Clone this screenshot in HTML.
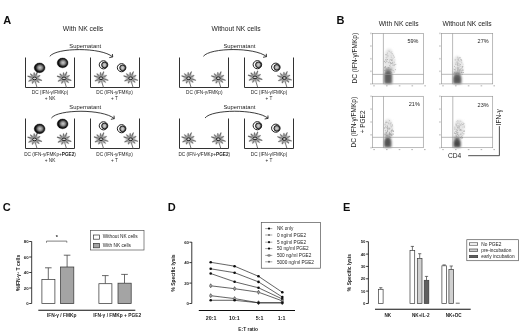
<!DOCTYPE html>
<html><head><meta charset="utf-8">
<style>
html,body{margin:0;padding:0;background:#fff;}
body{width:520px;height:335px;overflow:hidden;}
svg{display:block;font-family:"Liberation Sans",sans-serif;will-change:transform;}
.b{font-weight:bold;}
</style></head><body>
<svg width="520" height="335" viewBox="0 0 520 335">
<defs>
  <radialGradient id="gNK" cx="0.54" cy="0.48" r="0.52">
    <stop offset="0" stop-color="#cccccc"/>
    <stop offset="0.4" stop-color="#8c8c8c"/>
    <stop offset="0.65" stop-color="#3a3a3a"/>
    <stop offset="0.82" stop-color="#111"/>
    <stop offset="1" stop-color="#000"/>
  </radialGradient>
  <radialGradient id="gT" cx="0.5" cy="0.5" r="0.5">
    <stop offset="0" stop-color="#d8d8d8"/>
    <stop offset="0.55" stop-color="#aaa"/>
    <stop offset="1" stop-color="#666"/>
  </radialGradient>
  <filter id="bl" x="-50%" y="-50%" width="200%" height="200%"><feGaussianBlur stdDeviation="0.6"/></filter>
  <filter id="bl2" x="-50%" y="-50%" width="200%" height="200%"><feGaussianBlur stdDeviation="1.2"/></filter>
  <filter id="bl3" x="-50%" y="-50%" width="200%" height="200%"><feGaussianBlur stdDeviation="0.3"/></filter>
  <filter id="bl4" x="-50%" y="-50%" width="200%" height="200%"><feGaussianBlur stdDeviation="0.8"/></filter>
  <filter id="gblur" x="0" y="0" width="520" height="335" filterUnits="userSpaceOnUse"><feGaussianBlur stdDeviation="0.3"/></filter>
  <g id="nk">
    <ellipse rx="5.4" ry="4.85" fill="url(#gNK)" stroke="#000" stroke-width="0.4"/>
  </g>
  <g id="tc">
    <ellipse rx="4.25" ry="4.05" fill="#fff" stroke="#111" stroke-width="0.95"/>
    <circle cx="1.0" cy="0.15" r="2.85" fill="url(#gT)" stroke="#111" stroke-width="0.9"/>
  </g>
  <g id="dc">
    <path d="M-2.23,-1.53 L-6.81,-2.58 L-6.99,-2.02 L-2.70,-0.11 Z M-1.20,-2.43 L-3.98,-4.80 L-4.42,-4.40 L-2.31,-1.41 Z M0.52,-2.65 L-0.20,-5.83 L-0.80,-5.77 L-0.97,-2.53 Z M1.72,-2.09 L3.08,-6.38 L2.52,-6.62 L0.34,-2.68 Z M2.66,-0.51 L5.64,-2.53 L5.36,-3.07 L1.98,-1.85 Z M2.30,1.42 L7.12,2.29 L7.28,1.71 L2.71,-0.03 Z M1.41,2.31 L4.40,4.42 L4.80,3.98 L2.43,1.20 Z M-1.77,2.05 L-2.57,4.87 L-2.03,5.13 L-0.41,2.68 Z M-2.67,0.42 L-6.13,2.53 L-5.87,3.07 L-2.04,1.78 Z" fill="#5a5a5a" stroke="#5a5a5a" stroke-width="0.3" stroke-linejoin="round"/>
    <path d="M0.3,2 L2.6,9.6" stroke="#505050" stroke-width="0.8" fill="none"/>
    <ellipse rx="4.3" ry="3.7" fill="#9a9a9a" filter="url(#bl4)"/>
    <ellipse rx="2.0" ry="1.35" fill="#d0d0d0" stroke="#151515" stroke-width="0.95"/>
  </g>
  <marker id="arr" viewBox="0 0 6 6" refX="5" refY="3" markerWidth="4" markerHeight="4" orient="auto">
    <path d="M0,0.5 L5,3 L0,5.5" fill="none" stroke="#111" stroke-width="1"/>
  </marker>
</defs>
<rect width="520" height="335" fill="#fff"/>
<g filter="url(#gblur)">

<!-- ============ PANEL A ============ -->
<text x="3.3" y="23.8" font-size="11" class="b" fill="#111">A</text>
<text x="83" y="31" font-size="6.8" text-anchor="middle" fill="#222">With NK cells</text>
<text x="236" y="31" font-size="6.7" text-anchor="middle" fill="#222">Without NK cells</text>

<g id="rowA1">
  <!-- wells -->
  <g fill="none" stroke="#333" stroke-width="1">
    <path d="M25.5,57.5 V87.5 H74.5 V57.5"/>
    <path d="M90.5,57.5 V87.5 H139.5 V57.5"/>
    <path d="M179.5,57.5 V87.5 H228.5 V57.5"/>
    <path d="M244.5,57.5 V87.5 H293.5 V57.5"/>
  </g>
  <g font-size="5.85" text-anchor="middle" fill="#222">
    <text x="85.2" y="48">Supernatant</text>
    <text x="239.4" y="48">Supernatant</text>
  </g>
  <path d="M49.8,56.3 C56.5,47.5 101,47 112.7,56.9 M109.3,57.6 L112.7,56.9 L112.4,54.0" fill="none" stroke="#1a1a1a" stroke-width="0.85" stroke-linejoin="round"/>
  <path d="M203.4,56.3 C210.1,47.5 254.8,47 266.5,56.6 M263.1,57.3 L266.5,56.6 L266.3,53.8" fill="none" stroke="#1a1a1a" stroke-width="0.85" stroke-linejoin="round"/>
  <!-- cells well 1 -->
  <use href="#dc" x="34.6" y="78.4"/>
  <use href="#dc" x="64" y="78.4"/>
  <use href="#nk" x="39.6" y="67.85"/>
  <use href="#nk" x="62.6" y="62.9"/>
  <!-- well 2 -->
  <use href="#dc" x="101" y="78.2"/>
  <use href="#dc" x="130.6" y="78.2"/>
  <use href="#tc" x="103.5" y="64.8"/>
  <use href="#tc" x="121.6" y="67.7"/>
  <!-- well 3 -->
  <use href="#dc" x="188.6" y="78.2"/>
  <use href="#dc" x="218.3" y="78.2"/>
  <!-- well 4 -->
  <use href="#dc" x="255" y="77.4"/>
  <use href="#dc" x="284.4" y="78.0"/>
  <use href="#tc" x="257.4" y="64.7"/>
  <use href="#tc" x="275.8" y="67.2"/>
  <g font-size="4.7" text-anchor="middle" fill="#222">
    <text x="50" y="93.5">DC (IFN-γ/FMKp)</text>
    <text x="50" y="99.5">+ NK</text>
    <text x="114.5" y="93.5">DC (IFN-γ/FMKp)</text>
    <text x="114.5" y="99.5">+ T</text>
    <text x="204.3" y="93.5">DC (IFN-γ/FMKp)</text>
    <text x="269" y="93.5">DC (IFN-γ/FMKp)</text>
    <text x="269" y="99.5">+ T</text>
  </g>
</g>

<g id="rowA2" transform="translate(0,61)">
  <g fill="none" stroke="#333" stroke-width="1">
    <path d="M25.5,57.5 V87.5 H74.5 V57.5"/>
    <path d="M90.5,57.5 V87.5 H139.5 V57.5"/>
    <path d="M179.5,57.5 V87.5 H228.5 V57.5"/>
    <path d="M244.5,57.5 V87.5 H293.5 V57.5"/>
  </g>
  <g font-size="5.85" text-anchor="middle" fill="#222">
    <text x="85.2" y="48">Supernatant</text>
    <text x="239.4" y="48">Supernatant</text>
  </g>
  <g transform="translate(1.6,0.7)"><path d="M49.8,56.3 C56.5,47.5 101,47 112.7,56.9 M109.3,57.6 L112.7,56.9 L112.4,54.0" fill="none" stroke="#1a1a1a" stroke-width="0.85" stroke-linejoin="round"/>
  <path d="M203.4,56.3 C210.1,47.5 254.8,47 266.5,56.6 M263.1,57.3 L266.5,56.6 L266.3,53.8" fill="none" stroke="#1a1a1a" stroke-width="0.85" stroke-linejoin="round"/></g>
  <use href="#dc" x="34.6" y="78.4"/>
  <use href="#dc" x="64" y="78.4"/>
  <use href="#nk" x="39.6" y="67.85"/>
  <use href="#nk" x="62.6" y="62.9"/>
  <use href="#dc" x="101" y="78.2"/>
  <use href="#dc" x="130.6" y="78.2"/>
  <use href="#tc" x="103.5" y="64.8"/>
  <use href="#tc" x="121.6" y="67.7"/>
  <use href="#dc" x="188.6" y="78.2"/>
  <use href="#dc" x="218.3" y="78.2"/>
  <use href="#dc" x="255" y="77.4"/>
  <use href="#dc" x="284.4" y="78.0"/>
  <use href="#tc" x="257.4" y="64.7"/>
  <use href="#tc" x="275.8" y="67.2"/>
  <g font-size="4.7" text-anchor="middle" fill="#222">
    <text x="50" y="95.2">DC (IFN-γ/FMKp+<tspan class="b">PGE2</tspan>)</text>
    <text x="50" y="100.6">+ NK</text>
    <text x="114.5" y="95.2">DC (IFN-γ/FMKp)</text>
    <text x="114.5" y="100.6">+ T</text>
    <text x="204.3" y="95.2">DC (IFN-γ/FMKp+<tspan class="b">PGE2</tspan>)</text>
    <text x="269" y="95.2">DC (IFN-γ/FMKp)</text>
    <text x="269" y="100.6">+ T</text>
  </g>
</g>

<!-- ============ PANEL B ============ -->
<text x="336.5" y="24" font-size="11" class="b" fill="#111">B</text>
<text x="398.7" y="25.6" font-size="6.7" text-anchor="middle" fill="#222">With NK cells</text>
<text x="467" y="25.6" font-size="6.7" text-anchor="middle" fill="#222">Without NK cells</text>

<!-- FLOW START -->
<g><path d="M384.0,72.0 L383.8,62.0 L385.0,52.0 L388.0,48.5 L391.5,49.5 L394.0,56.0 L395.5,64.0 L395.0,72.0 Z" fill="#e6e6e6" filter="url(#bl2)"/>
<g filter="url(#bl3)"><rect x="389.1" y="61.7" width="0.9" height="0.9" fill="rgb(212,212,212)"/><rect x="389.2" y="60.4" width="0.9" height="0.9" fill="rgb(194,194,194)"/><rect x="386.0" y="60.5" width="0.9" height="0.9" fill="rgb(197,197,197)"/><rect x="387.3" y="50.6" width="0.9" height="0.9" fill="rgb(229,229,229)"/><rect x="391.5" y="63.0" width="0.9" height="0.9" fill="rgb(163,163,163)"/><rect x="384.0" y="60.9" width="0.9" height="0.9" fill="rgb(162,162,162)"/><rect x="386.0" y="54.2" width="0.9" height="0.9" fill="rgb(174,174,174)"/><rect x="389.2" y="58.9" width="0.9" height="0.9" fill="rgb(213,213,213)"/><rect x="389.9" y="63.5" width="0.9" height="0.9" fill="rgb(182,182,182)"/><rect x="391.6" y="59.2" width="0.9" height="0.9" fill="rgb(178,178,178)"/><rect x="393.6" y="65.1" width="0.9" height="0.9" fill="rgb(168,168,168)"/><rect x="386.5" y="55.3" width="0.9" height="0.9" fill="rgb(174,174,174)"/><rect x="392.8" y="57.9" width="0.9" height="0.9" fill="rgb(215,215,215)"/><rect x="388.3" y="71.0" width="0.9" height="0.9" fill="rgb(187,187,187)"/><rect x="394.5" y="59.5" width="0.9" height="0.9" fill="rgb(220,220,220)"/><rect x="388.4" y="50.2" width="0.9" height="0.9" fill="rgb(219,219,219)"/><rect x="392.9" y="54.8" width="0.9" height="0.9" fill="rgb(176,176,176)"/><rect x="387.7" y="71.2" width="0.9" height="0.9" fill="rgb(182,182,182)"/><rect x="385.2" y="54.3" width="0.9" height="0.9" fill="rgb(178,178,178)"/><rect x="384.5" y="67.2" width="0.9" height="0.9" fill="rgb(155,155,155)"/><rect x="390.3" y="59.0" width="0.9" height="0.9" fill="rgb(174,174,174)"/><rect x="391.3" y="51.2" width="0.9" height="0.9" fill="rgb(204,204,204)"/><rect x="386.3" y="54.8" width="0.9" height="0.9" fill="rgb(229,229,229)"/><rect x="393.2" y="55.6" width="0.9" height="0.9" fill="rgb(222,222,222)"/><rect x="386.3" y="57.8" width="0.9" height="0.9" fill="rgb(216,216,216)"/><rect x="391.3" y="50.9" width="0.9" height="0.9" fill="rgb(235,235,235)"/><rect x="386.3" y="54.6" width="0.9" height="0.9" fill="rgb(218,218,218)"/><rect x="387.6" y="55.5" width="0.9" height="0.9" fill="rgb(174,174,174)"/><rect x="384.9" y="62.2" width="0.9" height="0.9" fill="rgb(170,170,170)"/><rect x="390.8" y="57.2" width="0.9" height="0.9" fill="rgb(193,193,193)"/><rect x="390.5" y="68.9" width="0.9" height="0.9" fill="rgb(152,152,152)"/><rect x="385.6" y="69.8" width="0.9" height="0.9" fill="rgb(188,188,188)"/><rect x="386.7" y="53.0" width="0.9" height="0.9" fill="rgb(219,219,219)"/><rect x="394.9" y="69.2" width="0.9" height="0.9" fill="rgb(177,177,177)"/><rect x="388.7" y="50.9" width="0.9" height="0.9" fill="rgb(182,182,182)"/><rect x="392.0" y="54.5" width="0.9" height="0.9" fill="rgb(221,221,221)"/><rect x="390.8" y="55.4" width="0.9" height="0.9" fill="rgb(180,180,180)"/><rect x="386.5" y="61.6" width="0.9" height="0.9" fill="rgb(208,208,208)"/><rect x="391.0" y="55.1" width="0.9" height="0.9" fill="rgb(226,226,226)"/><rect x="386.9" y="59.0" width="0.9" height="0.9" fill="rgb(166,166,166)"/><rect x="385.9" y="57.2" width="0.9" height="0.9" fill="rgb(200,200,200)"/><rect x="385.3" y="57.0" width="0.9" height="0.9" fill="rgb(220,220,220)"/><rect x="395.3" y="63.9" width="0.9" height="0.9" fill="rgb(193,193,193)"/><rect x="390.6" y="51.8" width="0.9" height="0.9" fill="rgb(180,180,180)"/><rect x="384.0" y="69.9" width="0.9" height="0.9" fill="rgb(181,181,181)"/><rect x="391.2" y="59.8" width="0.9" height="0.9" fill="rgb(204,204,204)"/><rect x="387.5" y="72.0" width="0.9" height="0.9" fill="rgb(139,139,139)"/><rect x="390.2" y="65.8" width="0.9" height="0.9" fill="rgb(202,202,202)"/><rect x="392.4" y="65.0" width="0.9" height="0.9" fill="rgb(197,197,197)"/><rect x="391.8" y="69.7" width="0.9" height="0.9" fill="rgb(192,192,192)"/><rect x="388.7" y="67.1" width="0.9" height="0.9" fill="rgb(197,197,197)"/><rect x="390.5" y="63.2" width="0.9" height="0.9" fill="rgb(176,176,176)"/><rect x="390.6" y="62.8" width="0.9" height="0.9" fill="rgb(159,159,159)"/><rect x="391.3" y="71.8" width="0.9" height="0.9" fill="rgb(188,188,188)"/><rect x="392.3" y="57.6" width="0.9" height="0.9" fill="rgb(209,209,209)"/><rect x="390.6" y="58.9" width="0.9" height="0.9" fill="rgb(213,213,213)"/><rect x="384.8" y="66.1" width="0.9" height="0.9" fill="rgb(149,149,149)"/><rect x="390.8" y="59.8" width="0.9" height="0.9" fill="rgb(174,174,174)"/><rect x="392.0" y="60.2" width="0.9" height="0.9" fill="rgb(197,197,197)"/><rect x="391.7" y="53.3" width="0.9" height="0.9" fill="rgb(185,185,185)"/><rect x="394.4" y="64.0" width="0.9" height="0.9" fill="rgb(178,178,178)"/><rect x="391.6" y="53.2" width="0.9" height="0.9" fill="rgb(200,200,200)"/><rect x="393.2" y="70.0" width="0.9" height="0.9" fill="rgb(192,192,192)"/><rect x="388.3" y="62.2" width="0.9" height="0.9" fill="rgb(174,174,174)"/><rect x="385.4" y="60.2" width="0.9" height="0.9" fill="rgb(210,210,210)"/><rect x="393.7" y="65.2" width="0.9" height="0.9" fill="rgb(206,206,206)"/><rect x="387.0" y="52.5" width="0.9" height="0.9" fill="rgb(203,203,203)"/><rect x="387.0" y="53.5" width="0.9" height="0.9" fill="rgb(199,199,199)"/><rect x="391.1" y="60.1" width="0.9" height="0.9" fill="rgb(179,179,179)"/><rect x="393.6" y="71.6" width="0.9" height="0.9" fill="rgb(163,163,163)"/><rect x="392.1" y="61.9" width="0.9" height="0.9" fill="rgb(175,175,175)"/><rect x="385.4" y="59.2" width="0.9" height="0.9" fill="rgb(163,163,163)"/><rect x="391.2" y="59.0" width="0.9" height="0.9" fill="rgb(200,200,200)"/><rect x="391.5" y="67.5" width="0.9" height="0.9" fill="rgb(202,202,202)"/><rect x="391.8" y="53.2" width="0.9" height="0.9" fill="rgb(203,203,203)"/><rect x="389.3" y="65.3" width="0.9" height="0.9" fill="rgb(160,160,160)"/><rect x="387.0" y="56.6" width="0.9" height="0.9" fill="rgb(209,209,209)"/><rect x="389.9" y="62.9" width="0.9" height="0.9" fill="rgb(199,199,199)"/><rect x="388.4" y="67.1" width="0.9" height="0.9" fill="rgb(199,199,199)"/><rect x="384.8" y="70.4" width="0.9" height="0.9" fill="rgb(181,181,181)"/><rect x="385.3" y="59.2" width="0.9" height="0.9" fill="rgb(199,199,199)"/><rect x="390.5" y="69.2" width="0.9" height="0.9" fill="rgb(188,188,188)"/><rect x="391.4" y="53.3" width="0.9" height="0.9" fill="rgb(218,218,218)"/><rect x="393.4" y="63.6" width="0.9" height="0.9" fill="rgb(195,195,195)"/><rect x="386.3" y="69.6" width="0.9" height="0.9" fill="rgb(198,198,198)"/><rect x="393.1" y="56.0" width="0.9" height="0.9" fill="rgb(223,223,223)"/><rect x="393.8" y="56.7" width="0.9" height="0.9" fill="rgb(172,172,172)"/><rect x="389.0" y="61.4" width="0.9" height="0.9" fill="rgb(203,203,203)"/><rect x="389.5" y="49.2" width="0.9" height="0.9" fill="rgb(232,232,232)"/><rect x="384.5" y="67.3" width="0.9" height="0.9" fill="rgb(155,155,155)"/><rect x="387.7" y="67.0" width="0.9" height="0.9" fill="rgb(154,154,154)"/><rect x="385.5" y="60.6" width="0.9" height="0.9" fill="rgb(202,202,202)"/><rect x="393.6" y="64.7" width="0.9" height="0.9" fill="rgb(207,207,207)"/><rect x="389.6" y="70.8" width="0.9" height="0.9" fill="rgb(142,142,142)"/><rect x="386.4" y="60.9" width="0.9" height="0.9" fill="rgb(176,176,176)"/><rect x="392.3" y="63.5" width="0.9" height="0.9" fill="rgb(184,184,184)"/><rect x="393.7" y="61.7" width="0.9" height="0.9" fill="rgb(175,175,175)"/><rect x="388.3" y="68.4" width="0.9" height="0.9" fill="rgb(196,196,196)"/><rect x="386.2" y="68.5" width="0.9" height="0.9" fill="rgb(200,200,200)"/><rect x="389.9" y="62.0" width="0.9" height="0.9" fill="rgb(168,168,168)"/></g>
<rect x="384.0" y="68.0" width="8.2" height="2.5" rx="3" fill="#a0a0a0" filter="url(#bl4)"/>
<path d="M384.0,75.5 A4.1,6.0 0 0 1 392.2,75.5 L392.2,82.5 Q392.2,84.0 390.7,84.0 L385.5,84.0 Q384.0,84.0 384.0,82.5 Z" fill="#707070" filter="url(#bl4)"/>
<rect x="385.6" y="73.0" width="4.8" height="9.5" rx="2" fill="#505050" opacity="0.6" filter="url(#bl4)"/>
<rect x="372.5" y="33.4" width="51.1" height="50.5" fill="none" stroke="#959595" stroke-width="0.65"/>
<path d="M383.4,33.4 V83.9 M372.5,74.4 H423.6" stroke="#959595" stroke-width="0.65"/>
<rect x="370.5" y="83.1" width="0.9" height="1.6" fill="#aaa"/>
<rect x="370.5" y="70.5" width="0.9" height="1.6" fill="#aaa"/>
<rect x="370.5" y="57.9" width="0.9" height="1.6" fill="#aaa"/>
<rect x="370.5" y="45.2" width="0.9" height="1.6" fill="#aaa"/>
<rect x="370.5" y="32.6" width="0.9" height="1.6" fill="#aaa"/>
<rect x="373.2" y="85.4" width="1.6" height="0.9" fill="#aaa"/>
<rect x="386.0" y="85.4" width="1.6" height="0.9" fill="#aaa"/>
<rect x="398.8" y="85.4" width="1.6" height="0.9" fill="#aaa"/>
<rect x="411.5" y="85.4" width="1.6" height="0.9" fill="#aaa"/>
<rect x="424.3" y="85.4" width="1.6" height="0.9" fill="#aaa"/>
<text x="412.9" y="43.0" font-size="5.5" text-anchor="middle" fill="#222">59%</text></g>
<g><path d="M453.2,74.0 L453.3,64.0 L454.5,57.5 L457.0,55.8 L460.0,57.0 L462.5,62.0 L463.5,69.0 L462.5,74.0 Z" fill="#e6e6e6" filter="url(#bl2)"/>
<g filter="url(#bl3)"><rect x="458.7" y="65.0" width="0.9" height="0.9" fill="rgb(196,196,196)"/><rect x="453.5" y="73.4" width="0.9" height="0.9" fill="rgb(167,167,167)"/><rect x="457.3" y="70.4" width="0.9" height="0.9" fill="rgb(178,178,178)"/><rect x="458.3" y="68.4" width="0.9" height="0.9" fill="rgb(154,154,154)"/><rect x="458.7" y="63.3" width="0.9" height="0.9" fill="rgb(221,221,221)"/><rect x="458.1" y="58.1" width="0.9" height="0.9" fill="rgb(204,204,204)"/><rect x="461.6" y="72.2" width="0.9" height="0.9" fill="rgb(168,168,168)"/><rect x="456.5" y="59.3" width="0.9" height="0.9" fill="rgb(212,212,212)"/><rect x="455.2" y="59.9" width="0.9" height="0.9" fill="rgb(214,214,214)"/><rect x="456.5" y="62.3" width="0.9" height="0.9" fill="rgb(204,204,204)"/><rect x="454.3" y="69.1" width="0.9" height="0.9" fill="rgb(155,155,155)"/><rect x="458.5" y="60.4" width="0.9" height="0.9" fill="rgb(184,184,184)"/><rect x="458.7" y="63.7" width="0.9" height="0.9" fill="rgb(185,185,185)"/><rect x="457.5" y="65.4" width="0.9" height="0.9" fill="rgb(168,168,168)"/><rect x="455.3" y="67.3" width="0.9" height="0.9" fill="rgb(191,191,191)"/><rect x="458.7" y="71.3" width="0.9" height="0.9" fill="rgb(179,179,179)"/><rect x="460.8" y="70.6" width="0.9" height="0.9" fill="rgb(198,198,198)"/><rect x="456.5" y="61.5" width="0.9" height="0.9" fill="rgb(224,224,224)"/><rect x="455.4" y="74.0" width="0.9" height="0.9" fill="rgb(188,188,188)"/><rect x="454.6" y="60.2" width="0.9" height="0.9" fill="rgb(216,216,216)"/><rect x="455.9" y="57.6" width="0.9" height="0.9" fill="rgb(230,230,230)"/><rect x="457.5" y="70.2" width="0.9" height="0.9" fill="rgb(153,153,153)"/><rect x="457.3" y="68.3" width="0.9" height="0.9" fill="rgb(151,151,151)"/><rect x="455.3" y="68.2" width="0.9" height="0.9" fill="rgb(205,205,205)"/><rect x="458.4" y="69.6" width="0.9" height="0.9" fill="rgb(177,177,177)"/><rect x="460.3" y="59.2" width="0.9" height="0.9" fill="rgb(179,179,179)"/><rect x="458.9" y="65.2" width="0.9" height="0.9" fill="rgb(193,193,193)"/><rect x="454.7" y="59.2" width="0.9" height="0.9" fill="rgb(188,188,188)"/><rect x="461.9" y="73.8" width="0.9" height="0.9" fill="rgb(191,191,191)"/><rect x="461.1" y="61.7" width="0.9" height="0.9" fill="rgb(196,196,196)"/><rect x="458.5" y="63.6" width="0.9" height="0.9" fill="rgb(199,199,199)"/><rect x="453.3" y="68.6" width="0.9" height="0.9" fill="rgb(200,200,200)"/><rect x="455.1" y="64.1" width="0.9" height="0.9" fill="rgb(206,206,206)"/><rect x="457.4" y="59.4" width="0.9" height="0.9" fill="rgb(185,185,185)"/><rect x="462.4" y="70.4" width="0.9" height="0.9" fill="rgb(187,187,187)"/><rect x="462.1" y="67.3" width="0.9" height="0.9" fill="rgb(177,177,177)"/><rect x="459.4" y="65.0" width="0.9" height="0.9" fill="rgb(218,218,218)"/><rect x="461.5" y="60.5" width="0.9" height="0.9" fill="rgb(226,226,226)"/><rect x="460.9" y="70.0" width="0.9" height="0.9" fill="rgb(194,194,194)"/><rect x="457.4" y="72.1" width="0.9" height="0.9" fill="rgb(192,192,192)"/><rect x="460.4" y="69.8" width="0.9" height="0.9" fill="rgb(192,192,192)"/><rect x="457.4" y="69.0" width="0.9" height="0.9" fill="rgb(153,153,153)"/><rect x="456.7" y="64.3" width="0.9" height="0.9" fill="rgb(162,162,162)"/><rect x="456.9" y="67.4" width="0.9" height="0.9" fill="rgb(190,190,190)"/><rect x="455.6" y="73.0" width="0.9" height="0.9" fill="rgb(177,177,177)"/><rect x="456.7" y="67.8" width="0.9" height="0.9" fill="rgb(186,186,186)"/><rect x="458.7" y="62.9" width="0.9" height="0.9" fill="rgb(225,225,225)"/><rect x="459.8" y="68.6" width="0.9" height="0.9" fill="rgb(195,195,195)"/><rect x="459.5" y="69.2" width="0.9" height="0.9" fill="rgb(163,163,163)"/><rect x="457.3" y="56.7" width="0.9" height="0.9" fill="rgb(194,194,194)"/><rect x="457.1" y="57.6" width="0.9" height="0.9" fill="rgb(195,195,195)"/><rect x="462.5" y="65.8" width="0.9" height="0.9" fill="rgb(187,187,187)"/><rect x="459.4" y="69.6" width="0.9" height="0.9" fill="rgb(149,149,149)"/><rect x="458.1" y="58.9" width="0.9" height="0.9" fill="rgb(206,206,206)"/><rect x="459.5" y="56.9" width="0.9" height="0.9" fill="rgb(235,235,235)"/><rect x="457.5" y="65.4" width="0.9" height="0.9" fill="rgb(194,194,194)"/><rect x="457.0" y="61.0" width="0.9" height="0.9" fill="rgb(210,210,210)"/><rect x="459.0" y="61.0" width="0.9" height="0.9" fill="rgb(213,213,213)"/><rect x="454.8" y="69.5" width="0.9" height="0.9" fill="rgb(170,170,170)"/><rect x="462.4" y="69.4" width="0.9" height="0.9" fill="rgb(150,150,150)"/><rect x="454.0" y="72.3" width="0.9" height="0.9" fill="rgb(165,165,165)"/><rect x="458.1" y="73.5" width="0.9" height="0.9" fill="rgb(150,150,150)"/><rect x="458.6" y="72.9" width="0.9" height="0.9" fill="rgb(181,181,181)"/><rect x="458.0" y="73.6" width="0.9" height="0.9" fill="rgb(185,185,185)"/><rect x="459.4" y="57.9" width="0.9" height="0.9" fill="rgb(216,216,216)"/><rect x="457.9" y="59.5" width="0.9" height="0.9" fill="rgb(177,177,177)"/><rect x="458.6" y="58.1" width="0.9" height="0.9" fill="rgb(205,205,205)"/><rect x="460.1" y="64.1" width="0.9" height="0.9" fill="rgb(177,177,177)"/><rect x="459.2" y="63.4" width="0.9" height="0.9" fill="rgb(210,210,210)"/><rect x="458.7" y="74.0" width="0.9" height="0.9" fill="rgb(192,192,192)"/><rect x="460.8" y="60.1" width="0.9" height="0.9" fill="rgb(179,179,179)"/><rect x="462.4" y="70.1" width="0.9" height="0.9" fill="rgb(183,183,183)"/><rect x="456.9" y="60.7" width="0.9" height="0.9" fill="rgb(212,212,212)"/><rect x="459.0" y="66.6" width="0.9" height="0.9" fill="rgb(193,193,193)"/><rect x="461.0" y="59.3" width="0.9" height="0.9" fill="rgb(190,190,190)"/><rect x="457.6" y="67.1" width="0.9" height="0.9" fill="rgb(159,159,159)"/><rect x="458.8" y="57.1" width="0.9" height="0.9" fill="rgb(186,186,186)"/><rect x="460.2" y="65.8" width="0.9" height="0.9" fill="rgb(195,195,195)"/><rect x="457.0" y="64.5" width="0.9" height="0.9" fill="rgb(173,173,173)"/><rect x="456.7" y="69.4" width="0.9" height="0.9" fill="rgb(198,198,198)"/><rect x="461.5" y="67.2" width="0.9" height="0.9" fill="rgb(199,199,199)"/><rect x="455.4" y="63.5" width="0.9" height="0.9" fill="rgb(179,179,179)"/><rect x="461.5" y="62.5" width="0.9" height="0.9" fill="rgb(205,205,205)"/><rect x="458.9" y="69.4" width="0.9" height="0.9" fill="rgb(202,202,202)"/><rect x="457.6" y="62.5" width="0.9" height="0.9" fill="rgb(172,172,172)"/><rect x="454.1" y="66.1" width="0.9" height="0.9" fill="rgb(185,185,185)"/><rect x="460.3" y="61.2" width="0.9" height="0.9" fill="rgb(216,216,216)"/><rect x="460.0" y="57.3" width="0.9" height="0.9" fill="rgb(199,199,199)"/><rect x="460.7" y="68.4" width="0.9" height="0.9" fill="rgb(167,167,167)"/><rect x="454.7" y="62.3" width="0.9" height="0.9" fill="rgb(210,210,210)"/><rect x="457.0" y="57.9" width="0.9" height="0.9" fill="rgb(221,221,221)"/><rect x="459.1" y="72.5" width="0.9" height="0.9" fill="rgb(195,195,195)"/><rect x="462.6" y="63.8" width="0.9" height="0.9" fill="rgb(211,211,211)"/><rect x="456.3" y="61.6" width="0.9" height="0.9" fill="rgb(193,193,193)"/><rect x="462.8" y="72.1" width="0.9" height="0.9" fill="rgb(155,155,155)"/><rect x="456.9" y="62.5" width="0.9" height="0.9" fill="rgb(188,188,188)"/><rect x="457.3" y="62.9" width="0.9" height="0.9" fill="rgb(177,177,177)"/><rect x="459.0" y="70.3" width="0.9" height="0.9" fill="rgb(177,177,177)"/><rect x="461.8" y="66.0" width="0.9" height="0.9" fill="rgb(167,167,167)"/><rect x="461.0" y="71.8" width="0.9" height="0.9" fill="rgb(157,157,157)"/></g>
<rect x="453.0" y="71.5" width="8.5" height="2.5" rx="3" fill="#a0a0a0" filter="url(#bl4)"/>
<path d="M453.0,78.5 A4.2,5.5 0 0 1 461.5,78.5 L461.5,82.5 Q461.5,84.0 460.0,84.0 L454.5,84.0 Q453.0,84.0 453.0,82.5 Z" fill="#6a6a6a" filter="url(#bl4)"/>
<rect x="454.6" y="76.5" width="5.1" height="6.0" rx="2" fill="#4a4a4a" opacity="0.6" filter="url(#bl4)"/>
<rect x="441.5" y="33.4" width="51.2" height="50.5" fill="none" stroke="#959595" stroke-width="0.65"/>
<path d="M452.6,33.4 V83.9 M441.5,74.3 H492.7" stroke="#959595" stroke-width="0.65"/>
<rect x="439.5" y="83.1" width="0.9" height="1.6" fill="#aaa"/>
<rect x="439.5" y="70.5" width="0.9" height="1.6" fill="#aaa"/>
<rect x="439.5" y="57.9" width="0.9" height="1.6" fill="#aaa"/>
<rect x="439.5" y="45.2" width="0.9" height="1.6" fill="#aaa"/>
<rect x="439.5" y="32.6" width="0.9" height="1.6" fill="#aaa"/>
<rect x="442.2" y="85.4" width="1.6" height="0.9" fill="#aaa"/>
<rect x="455.0" y="85.4" width="1.6" height="0.9" fill="#aaa"/>
<rect x="467.8" y="85.4" width="1.6" height="0.9" fill="#aaa"/>
<rect x="480.6" y="85.4" width="1.6" height="0.9" fill="#aaa"/>
<rect x="493.4" y="85.4" width="1.6" height="0.9" fill="#aaa"/>
<text x="483.1" y="42.9" font-size="5.5" text-anchor="middle" fill="#222">27%</text></g>
<g><path d="M384.0,137.0 L384.0,127.0 L385.0,120.5 L388.0,118.8 L391.0,120.0 L392.8,126.0 L393.0,133.0 L392.0,137.0 Z" fill="#e6e6e6" filter="url(#bl2)"/>
<g filter="url(#bl3)"><rect x="384.2" y="128.2" width="0.9" height="0.9" fill="rgb(191,191,191)"/><rect x="389.1" y="136.4" width="0.9" height="0.9" fill="rgb(175,175,175)"/><rect x="388.9" y="133.1" width="0.9" height="0.9" fill="rgb(150,150,150)"/><rect x="384.7" y="132.2" width="0.9" height="0.9" fill="rgb(202,202,202)"/><rect x="384.8" y="130.3" width="0.9" height="0.9" fill="rgb(161,161,161)"/><rect x="390.7" y="130.6" width="0.9" height="0.9" fill="rgb(167,167,167)"/><rect x="386.0" y="132.7" width="0.9" height="0.9" fill="rgb(178,178,178)"/><rect x="390.9" y="126.0" width="0.9" height="0.9" fill="rgb(185,185,185)"/><rect x="392.7" y="131.0" width="0.9" height="0.9" fill="rgb(181,181,181)"/><rect x="388.8" y="131.9" width="0.9" height="0.9" fill="rgb(191,191,191)"/><rect x="392.2" y="126.3" width="0.9" height="0.9" fill="rgb(214,214,214)"/><rect x="390.0" y="134.3" width="0.9" height="0.9" fill="rgb(190,190,190)"/><rect x="391.5" y="135.0" width="0.9" height="0.9" fill="rgb(198,198,198)"/><rect x="389.8" y="128.3" width="0.9" height="0.9" fill="rgb(201,201,201)"/><rect x="391.2" y="126.5" width="0.9" height="0.9" fill="rgb(189,189,189)"/><rect x="385.3" y="132.3" width="0.9" height="0.9" fill="rgb(207,207,207)"/><rect x="387.4" y="121.9" width="0.9" height="0.9" fill="rgb(188,188,188)"/><rect x="387.8" y="124.1" width="0.9" height="0.9" fill="rgb(228,228,228)"/><rect x="384.5" y="124.4" width="0.9" height="0.9" fill="rgb(176,176,176)"/><rect x="389.8" y="132.9" width="0.9" height="0.9" fill="rgb(156,156,156)"/><rect x="384.6" y="127.1" width="0.9" height="0.9" fill="rgb(197,197,197)"/><rect x="385.0" y="122.2" width="0.9" height="0.9" fill="rgb(188,188,188)"/><rect x="386.1" y="131.9" width="0.9" height="0.9" fill="rgb(184,184,184)"/><rect x="386.0" y="122.2" width="0.9" height="0.9" fill="rgb(192,192,192)"/><rect x="385.6" y="132.6" width="0.9" height="0.9" fill="rgb(165,165,165)"/><rect x="388.9" y="133.7" width="0.9" height="0.9" fill="rgb(172,172,172)"/><rect x="386.3" y="135.0" width="0.9" height="0.9" fill="rgb(195,195,195)"/><rect x="387.1" y="128.8" width="0.9" height="0.9" fill="rgb(215,215,215)"/><rect x="388.3" y="122.8" width="0.9" height="0.9" fill="rgb(176,176,176)"/><rect x="392.5" y="133.4" width="0.9" height="0.9" fill="rgb(168,168,168)"/><rect x="388.7" y="128.2" width="0.9" height="0.9" fill="rgb(175,175,175)"/><rect x="392.9" y="130.8" width="0.9" height="0.9" fill="rgb(166,166,166)"/><rect x="384.1" y="127.4" width="0.9" height="0.9" fill="rgb(183,183,183)"/><rect x="391.2" y="131.8" width="0.9" height="0.9" fill="rgb(185,185,185)"/><rect x="385.4" y="121.7" width="0.9" height="0.9" fill="rgb(196,196,196)"/><rect x="386.3" y="134.6" width="0.9" height="0.9" fill="rgb(172,172,172)"/><rect x="389.7" y="136.9" width="0.9" height="0.9" fill="rgb(151,151,151)"/><rect x="388.8" y="121.5" width="0.9" height="0.9" fill="rgb(223,223,223)"/><rect x="384.0" y="133.7" width="0.9" height="0.9" fill="rgb(194,194,194)"/><rect x="386.4" y="131.8" width="0.9" height="0.9" fill="rgb(155,155,155)"/><rect x="388.3" y="127.3" width="0.9" height="0.9" fill="rgb(218,218,218)"/><rect x="389.3" y="134.4" width="0.9" height="0.9" fill="rgb(160,160,160)"/><rect x="391.1" y="126.4" width="0.9" height="0.9" fill="rgb(219,219,219)"/><rect x="384.8" y="133.8" width="0.9" height="0.9" fill="rgb(156,156,156)"/><rect x="388.9" y="128.4" width="0.9" height="0.9" fill="rgb(168,168,168)"/><rect x="391.5" y="124.5" width="0.9" height="0.9" fill="rgb(188,188,188)"/><rect x="384.7" y="124.4" width="0.9" height="0.9" fill="rgb(197,197,197)"/><rect x="390.4" y="125.3" width="0.9" height="0.9" fill="rgb(208,208,208)"/><rect x="385.0" y="126.0" width="0.9" height="0.9" fill="rgb(192,192,192)"/><rect x="392.7" y="133.9" width="0.9" height="0.9" fill="rgb(182,182,182)"/><rect x="390.4" y="123.1" width="0.9" height="0.9" fill="rgb(206,206,206)"/><rect x="388.1" y="119.0" width="0.9" height="0.9" fill="rgb(235,235,235)"/><rect x="391.2" y="122.6" width="0.9" height="0.9" fill="rgb(211,211,211)"/><rect x="386.6" y="125.6" width="0.9" height="0.9" fill="rgb(198,198,198)"/><rect x="386.7" y="124.9" width="0.9" height="0.9" fill="rgb(191,191,191)"/><rect x="390.0" y="123.5" width="0.9" height="0.9" fill="rgb(184,184,184)"/><rect x="390.6" y="124.8" width="0.9" height="0.9" fill="rgb(225,225,225)"/><rect x="389.1" y="132.0" width="0.9" height="0.9" fill="rgb(168,168,168)"/><rect x="385.3" y="120.5" width="0.9" height="0.9" fill="rgb(220,220,220)"/><rect x="390.4" y="122.1" width="0.9" height="0.9" fill="rgb(200,200,200)"/><rect x="391.5" y="129.6" width="0.9" height="0.9" fill="rgb(160,160,160)"/><rect x="386.0" y="121.7" width="0.9" height="0.9" fill="rgb(184,184,184)"/><rect x="387.7" y="120.1" width="0.9" height="0.9" fill="rgb(235,235,235)"/><rect x="387.8" y="128.1" width="0.9" height="0.9" fill="rgb(198,198,198)"/><rect x="390.9" y="133.7" width="0.9" height="0.9" fill="rgb(167,167,167)"/><rect x="387.0" y="126.3" width="0.9" height="0.9" fill="rgb(165,165,165)"/><rect x="387.6" y="131.5" width="0.9" height="0.9" fill="rgb(208,208,208)"/><rect x="391.1" y="130.8" width="0.9" height="0.9" fill="rgb(188,188,188)"/><rect x="387.1" y="130.6" width="0.9" height="0.9" fill="rgb(158,158,158)"/><rect x="387.4" y="128.1" width="0.9" height="0.9" fill="rgb(206,206,206)"/><rect x="391.4" y="129.9" width="0.9" height="0.9" fill="rgb(163,163,163)"/><rect x="390.9" y="135.2" width="0.9" height="0.9" fill="rgb(172,172,172)"/><rect x="387.2" y="127.9" width="0.9" height="0.9" fill="rgb(168,168,168)"/><rect x="390.4" y="136.8" width="0.9" height="0.9" fill="rgb(166,166,166)"/><rect x="390.4" y="134.0" width="0.9" height="0.9" fill="rgb(155,155,155)"/><rect x="392.5" y="130.2" width="0.9" height="0.9" fill="rgb(165,165,165)"/><rect x="384.7" y="123.3" width="0.9" height="0.9" fill="rgb(207,207,207)"/><rect x="390.3" y="124.8" width="0.9" height="0.9" fill="rgb(224,224,224)"/><rect x="387.3" y="127.2" width="0.9" height="0.9" fill="rgb(169,169,169)"/><rect x="392.1" y="128.7" width="0.9" height="0.9" fill="rgb(191,191,191)"/><rect x="389.0" y="123.6" width="0.9" height="0.9" fill="rgb(226,226,226)"/><rect x="389.4" y="121.0" width="0.9" height="0.9" fill="rgb(228,228,228)"/><rect x="386.6" y="135.1" width="0.9" height="0.9" fill="rgb(154,154,154)"/><rect x="389.2" y="133.9" width="0.9" height="0.9" fill="rgb(154,154,154)"/><rect x="388.9" y="120.2" width="0.9" height="0.9" fill="rgb(183,183,183)"/><rect x="385.6" y="136.8" width="0.9" height="0.9" fill="rgb(192,192,192)"/><rect x="389.9" y="124.4" width="0.9" height="0.9" fill="rgb(209,209,209)"/><rect x="390.6" y="125.7" width="0.9" height="0.9" fill="rgb(201,201,201)"/><rect x="385.8" y="127.3" width="0.9" height="0.9" fill="rgb(170,170,170)"/><rect x="387.5" y="129.2" width="0.9" height="0.9" fill="rgb(166,166,166)"/><rect x="388.7" y="123.6" width="0.9" height="0.9" fill="rgb(205,205,205)"/><rect x="387.0" y="130.5" width="0.9" height="0.9" fill="rgb(155,155,155)"/><rect x="390.0" y="121.4" width="0.9" height="0.9" fill="rgb(235,235,235)"/><rect x="389.4" y="127.4" width="0.9" height="0.9" fill="rgb(186,186,186)"/><rect x="389.6" y="131.3" width="0.9" height="0.9" fill="rgb(196,196,196)"/><rect x="390.8" y="127.6" width="0.9" height="0.9" fill="rgb(220,220,220)"/><rect x="391.5" y="134.4" width="0.9" height="0.9" fill="rgb(166,166,166)"/><rect x="387.9" y="129.1" width="0.9" height="0.9" fill="rgb(211,211,211)"/><rect x="388.7" y="128.4" width="0.9" height="0.9" fill="rgb(184,184,184)"/><rect x="392.1" y="124.6" width="0.9" height="0.9" fill="rgb(172,172,172)"/></g>
<rect x="384.0" y="134.3" width="7.5" height="2.5" rx="3" fill="#a0a0a0" filter="url(#bl4)"/>
<path d="M384.0,141.7 A3.8,5.8 0 0 1 391.5,141.7 L391.5,146.0 Q391.5,147.5 390.0,147.5 L385.5,147.5 Q384.0,147.5 384.0,146.0 Z" fill="#646464" filter="url(#bl4)"/>
<rect x="385.6" y="139.3" width="4.1" height="6.7" rx="2" fill="#444" opacity="0.6" filter="url(#bl4)"/>
<rect x="372.6" y="96.3" width="50.7" height="51.4" fill="none" stroke="#959595" stroke-width="0.65"/>
<path d="M383.5,96.3 V147.7 M372.6,137.3 H423.3" stroke="#959595" stroke-width="0.65"/>
<rect x="370.6" y="146.9" width="0.9" height="1.6" fill="#aaa"/>
<rect x="370.6" y="134.0" width="0.9" height="1.6" fill="#aaa"/>
<rect x="370.6" y="121.2" width="0.9" height="1.6" fill="#aaa"/>
<rect x="370.6" y="108.3" width="0.9" height="1.6" fill="#aaa"/>
<rect x="370.6" y="95.5" width="0.9" height="1.6" fill="#aaa"/>
<rect x="373.3" y="149.2" width="1.6" height="0.9" fill="#aaa"/>
<rect x="386.0" y="149.2" width="1.6" height="0.9" fill="#aaa"/>
<rect x="398.7" y="149.2" width="1.6" height="0.9" fill="#aaa"/>
<rect x="411.3" y="149.2" width="1.6" height="0.9" fill="#aaa"/>
<rect x="424.0" y="149.2" width="1.6" height="0.9" fill="#aaa"/>
<text x="414.3" y="106.4" font-size="5.5" text-anchor="middle" fill="#222">21%</text></g>
<g><path d="M453.8,139.0 L454.0,129.0 L455.0,122.0 L458.0,119.5 L462.0,120.5 L464.8,125.0 L464.0,133.0 L461.5,139.0 Z" fill="#e6e6e6" filter="url(#bl2)"/>
<g filter="url(#bl3)"><rect x="461.8" y="137.1" width="0.9" height="0.9" fill="rgb(183,183,183)"/><rect x="460.4" y="134.2" width="0.9" height="0.9" fill="rgb(165,165,165)"/><rect x="460.3" y="120.9" width="0.9" height="0.9" fill="rgb(188,188,188)"/><rect x="458.7" y="129.3" width="0.9" height="0.9" fill="rgb(183,183,183)"/><rect x="454.4" y="133.1" width="0.9" height="0.9" fill="rgb(181,181,181)"/><rect x="456.4" y="125.5" width="0.9" height="0.9" fill="rgb(193,193,193)"/><rect x="461.1" y="136.4" width="0.9" height="0.9" fill="rgb(166,166,166)"/><rect x="462.7" y="123.8" width="0.9" height="0.9" fill="rgb(218,218,218)"/><rect x="460.0" y="137.1" width="0.9" height="0.9" fill="rgb(145,145,145)"/><rect x="462.5" y="121.9" width="0.9" height="0.9" fill="rgb(211,211,211)"/><rect x="456.5" y="125.3" width="0.9" height="0.9" fill="rgb(189,189,189)"/><rect x="454.5" y="137.0" width="0.9" height="0.9" fill="rgb(189,189,189)"/><rect x="458.2" y="126.5" width="0.9" height="0.9" fill="rgb(202,202,202)"/><rect x="463.7" y="125.5" width="0.9" height="0.9" fill="rgb(199,199,199)"/><rect x="459.0" y="123.5" width="0.9" height="0.9" fill="rgb(192,192,192)"/><rect x="456.0" y="135.8" width="0.9" height="0.9" fill="rgb(164,164,164)"/><rect x="459.0" y="122.9" width="0.9" height="0.9" fill="rgb(229,229,229)"/><rect x="460.8" y="123.2" width="0.9" height="0.9" fill="rgb(228,228,228)"/><rect x="461.8" y="125.6" width="0.9" height="0.9" fill="rgb(223,223,223)"/><rect x="463.4" y="133.4" width="0.9" height="0.9" fill="rgb(157,157,157)"/><rect x="461.5" y="137.8" width="0.9" height="0.9" fill="rgb(164,164,164)"/><rect x="457.2" y="133.4" width="0.9" height="0.9" fill="rgb(161,161,161)"/><rect x="455.8" y="124.1" width="0.9" height="0.9" fill="rgb(213,213,213)"/><rect x="462.5" y="126.8" width="0.9" height="0.9" fill="rgb(206,206,206)"/><rect x="463.5" y="131.0" width="0.9" height="0.9" fill="rgb(169,169,169)"/><rect x="457.1" y="137.6" width="0.9" height="0.9" fill="rgb(178,178,178)"/><rect x="456.8" y="132.0" width="0.9" height="0.9" fill="rgb(158,158,158)"/><rect x="459.6" y="129.9" width="0.9" height="0.9" fill="rgb(161,161,161)"/><rect x="460.4" y="125.0" width="0.9" height="0.9" fill="rgb(185,185,185)"/><rect x="456.9" y="134.2" width="0.9" height="0.9" fill="rgb(161,161,161)"/><rect x="456.9" y="130.2" width="0.9" height="0.9" fill="rgb(168,168,168)"/><rect x="454.2" y="128.5" width="0.9" height="0.9" fill="rgb(206,206,206)"/><rect x="458.0" y="137.6" width="0.9" height="0.9" fill="rgb(168,168,168)"/><rect x="455.8" y="130.3" width="0.9" height="0.9" fill="rgb(195,195,195)"/><rect x="457.8" y="132.3" width="0.9" height="0.9" fill="rgb(199,199,199)"/><rect x="459.5" y="129.4" width="0.9" height="0.9" fill="rgb(210,210,210)"/><rect x="461.3" y="129.7" width="0.9" height="0.9" fill="rgb(216,216,216)"/><rect x="455.7" y="134.7" width="0.9" height="0.9" fill="rgb(155,155,155)"/><rect x="460.5" y="124.1" width="0.9" height="0.9" fill="rgb(199,199,199)"/><rect x="462.3" y="134.8" width="0.9" height="0.9" fill="rgb(193,193,193)"/><rect x="456.4" y="129.0" width="0.9" height="0.9" fill="rgb(173,173,173)"/><rect x="460.2" y="129.2" width="0.9" height="0.9" fill="rgb(162,162,162)"/><rect x="460.4" y="133.4" width="0.9" height="0.9" fill="rgb(183,183,183)"/><rect x="463.4" y="123.0" width="0.9" height="0.9" fill="rgb(185,185,185)"/><rect x="458.6" y="128.1" width="0.9" height="0.9" fill="rgb(178,178,178)"/><rect x="463.8" y="130.6" width="0.9" height="0.9" fill="rgb(189,189,189)"/><rect x="462.5" y="124.1" width="0.9" height="0.9" fill="rgb(181,181,181)"/><rect x="457.2" y="120.3" width="0.9" height="0.9" fill="rgb(201,201,201)"/><rect x="460.6" y="129.7" width="0.9" height="0.9" fill="rgb(174,174,174)"/><rect x="460.3" y="121.2" width="0.9" height="0.9" fill="rgb(229,229,229)"/><rect x="455.7" y="124.5" width="0.9" height="0.9" fill="rgb(181,181,181)"/><rect x="461.4" y="135.7" width="0.9" height="0.9" fill="rgb(190,190,190)"/><rect x="454.5" y="127.5" width="0.9" height="0.9" fill="rgb(186,186,186)"/><rect x="456.2" y="138.4" width="0.9" height="0.9" fill="rgb(139,139,139)"/><rect x="459.2" y="134.3" width="0.9" height="0.9" fill="rgb(206,206,206)"/><rect x="455.4" y="128.4" width="0.9" height="0.9" fill="rgb(206,206,206)"/><rect x="458.1" y="125.3" width="0.9" height="0.9" fill="rgb(195,195,195)"/><rect x="461.9" y="124.0" width="0.9" height="0.9" fill="rgb(188,188,188)"/><rect x="459.9" y="124.2" width="0.9" height="0.9" fill="rgb(200,200,200)"/><rect x="464.1" y="126.6" width="0.9" height="0.9" fill="rgb(187,187,187)"/><rect x="454.2" y="127.4" width="0.9" height="0.9" fill="rgb(203,203,203)"/><rect x="454.4" y="126.2" width="0.9" height="0.9" fill="rgb(209,209,209)"/><rect x="463.3" y="131.0" width="0.9" height="0.9" fill="rgb(208,208,208)"/><rect x="458.9" y="127.2" width="0.9" height="0.9" fill="rgb(215,215,215)"/><rect x="458.0" y="134.7" width="0.9" height="0.9" fill="rgb(158,158,158)"/><rect x="457.6" y="123.1" width="0.9" height="0.9" fill="rgb(208,208,208)"/><rect x="455.6" y="123.5" width="0.9" height="0.9" fill="rgb(187,187,187)"/><rect x="458.9" y="125.5" width="0.9" height="0.9" fill="rgb(196,196,196)"/><rect x="463.3" y="123.5" width="0.9" height="0.9" fill="rgb(197,197,197)"/><rect x="454.6" y="133.0" width="0.9" height="0.9" fill="rgb(172,172,172)"/><rect x="455.8" y="124.6" width="0.9" height="0.9" fill="rgb(195,195,195)"/><rect x="456.8" y="126.5" width="0.9" height="0.9" fill="rgb(176,176,176)"/><rect x="464.1" y="126.5" width="0.9" height="0.9" fill="rgb(212,212,212)"/><rect x="461.8" y="137.2" width="0.9" height="0.9" fill="rgb(140,140,140)"/><rect x="457.3" y="127.0" width="0.9" height="0.9" fill="rgb(170,170,170)"/><rect x="463.5" y="125.8" width="0.9" height="0.9" fill="rgb(214,214,214)"/><rect x="459.5" y="120.6" width="0.9" height="0.9" fill="rgb(205,205,205)"/><rect x="455.5" y="131.1" width="0.9" height="0.9" fill="rgb(157,157,157)"/><rect x="457.2" y="127.8" width="0.9" height="0.9" fill="rgb(196,196,196)"/><rect x="455.3" y="133.3" width="0.9" height="0.9" fill="rgb(165,165,165)"/><rect x="461.8" y="132.5" width="0.9" height="0.9" fill="rgb(160,160,160)"/><rect x="456.1" y="125.0" width="0.9" height="0.9" fill="rgb(213,213,213)"/><rect x="458.3" y="127.0" width="0.9" height="0.9" fill="rgb(217,217,217)"/><rect x="456.3" y="125.2" width="0.9" height="0.9" fill="rgb(191,191,191)"/><rect x="454.1" y="131.8" width="0.9" height="0.9" fill="rgb(187,187,187)"/><rect x="457.1" y="132.6" width="0.9" height="0.9" fill="rgb(206,206,206)"/><rect x="456.2" y="132.9" width="0.9" height="0.9" fill="rgb(190,190,190)"/><rect x="456.4" y="131.8" width="0.9" height="0.9" fill="rgb(158,158,158)"/><rect x="458.5" y="127.2" width="0.9" height="0.9" fill="rgb(168,168,168)"/><rect x="458.0" y="125.9" width="0.9" height="0.9" fill="rgb(198,198,198)"/><rect x="456.9" y="122.6" width="0.9" height="0.9" fill="rgb(201,201,201)"/><rect x="459.0" y="122.8" width="0.9" height="0.9" fill="rgb(216,216,216)"/><rect x="456.4" y="121.3" width="0.9" height="0.9" fill="rgb(200,200,200)"/><rect x="458.4" y="122.4" width="0.9" height="0.9" fill="rgb(212,212,212)"/><rect x="461.5" y="130.3" width="0.9" height="0.9" fill="rgb(199,199,199)"/><rect x="457.8" y="120.7" width="0.9" height="0.9" fill="rgb(206,206,206)"/><rect x="454.4" y="129.2" width="0.9" height="0.9" fill="rgb(195,195,195)"/><rect x="459.0" y="125.8" width="0.9" height="0.9" fill="rgb(183,183,183)"/><rect x="463.6" y="130.5" width="0.9" height="0.9" fill="rgb(172,172,172)"/><rect x="461.1" y="123.1" width="0.9" height="0.9" fill="rgb(203,203,203)"/></g>
<rect x="453.4" y="136.5" width="7.4" height="2.5" rx="3" fill="#a0a0a0" filter="url(#bl4)"/>
<path d="M453.4,142.8 A3.7,4.8 0 0 1 460.8,142.8 L460.8,146.0 Q460.8,147.5 459.3,147.5 L454.9,147.5 Q453.4,147.5 453.4,146.0 Z" fill="#555" filter="url(#bl4)"/>
<rect x="455.0" y="141.5" width="4.0" height="4.5" rx="2" fill="#383838" opacity="0.6" filter="url(#bl4)"/>
<rect x="441.5" y="96.3" width="51.2" height="51.4" fill="none" stroke="#959595" stroke-width="0.65"/>
<path d="M452.8,96.3 V147.7 M441.5,137.3 H492.7" stroke="#959595" stroke-width="0.65"/>
<rect x="439.5" y="146.9" width="0.9" height="1.6" fill="#aaa"/>
<rect x="439.5" y="134.0" width="0.9" height="1.6" fill="#aaa"/>
<rect x="439.5" y="121.2" width="0.9" height="1.6" fill="#aaa"/>
<rect x="439.5" y="108.3" width="0.9" height="1.6" fill="#aaa"/>
<rect x="439.5" y="95.5" width="0.9" height="1.6" fill="#aaa"/>
<rect x="442.2" y="149.2" width="1.6" height="0.9" fill="#aaa"/>
<rect x="455.0" y="149.2" width="1.6" height="0.9" fill="#aaa"/>
<rect x="467.8" y="149.2" width="1.6" height="0.9" fill="#aaa"/>
<rect x="480.6" y="149.2" width="1.6" height="0.9" fill="#aaa"/>
<rect x="493.4" y="149.2" width="1.6" height="0.9" fill="#aaa"/>
<text x="483.1" y="106.6" font-size="5.5" text-anchor="middle" fill="#222">23%</text></g>
<!-- FLOW END -->
<g font-size="6.5" fill="#222" text-anchor="middle">
  <text transform="translate(357.2,58.2) rotate(-90)">DC (IFN-γ/FMKp)</text>
  <text transform="translate(355.9,122.2) rotate(-90)">DC (IFN-γ/FMKp)</text>
  <text transform="translate(365,121.9) rotate(-90)">+ PGE2</text>
</g>
<text x="448" y="158.1" font-size="6.6" fill="#222">CD4</text>
<path d="M468.2,155.7 H499.4 V126.2" fill="none" stroke="#222" stroke-width="0.8"/>
<text transform="translate(501.3,117.3) rotate(-90)" font-size="6.7" fill="#222" text-anchor="middle">IFN-γ</text>

<!-- ============ PANEL C ============ -->
<text x="2.7" y="211" font-size="11" class="b" fill="#111">C</text>
<g id="panelC">
  <!-- legend -->
  <rect x="90.5" y="230.5" width="53.5" height="19.5" fill="none" stroke="#555" stroke-width="0.7"/>
  <rect x="93.5" y="235" width="6" height="4.2" fill="#fff" stroke="#333" stroke-width="0.7"/>
  <rect x="93.5" y="243.4" width="6" height="4.4" fill="#a4a4a4" stroke="#333" stroke-width="0.7"/>
  <g font-size="4.75" fill="#222">
    <text x="102.7" y="238.4">Without NK cells</text>
    <text x="102.7" y="247">With NK cells</text>
  </g>
  <!-- y axis -->
  <g stroke="#222" stroke-width="0.9" fill="none">
    <path d="M31.7,241.5 V303.5"/>
    <path d="M29.2,241.5 H31.7 M29.2,257 H31.7 M29.2,272.5 H31.7 M29.2,288 H31.7 M29.2,303.5 H31.7"/>
  </g>
  <g font-size="4.3" class="b" fill="#222" text-anchor="end">
    <text x="28.6" y="243.1">80</text>
    <text x="28.6" y="258.6">60</text>
    <text x="28.6" y="274.1">40</text>
    <text x="28.6" y="289.6">20</text>
    <text x="28.6" y="305.1">0</text>
  </g>
  <text transform="translate(20.2,272.9) rotate(-90)" font-size="5.1" class="b" fill="#222" text-anchor="middle">%IFN-γ<tspan font-size="3" dy="-1.5">+</tspan><tspan dy="1.5"> T cells</tspan></text>
  <!-- bars -->
  <g stroke="#3a3a3a" stroke-width="0.75">
    <path d="M48.3,279.5 V267.8 M45,267.8 H51.6" fill="none"/>
    <path d="M67.1,267 V255.2 M63.8,255.2 H70.4" fill="none"/>
    <path d="M105.3,283.7 V275.6 M102,275.6 H108.6" fill="none"/>
    <path d="M124.5,283.2 V274.4 M121.2,274.4 H127.8" fill="none"/>
    <rect x="41.9" y="279.5" width="13" height="24" fill="#fff"/>
    <rect x="60.6" y="267" width="13.2" height="36.5" fill="#a4a4a4"/>
    <rect x="98.9" y="283.7" width="13" height="19.8" fill="#fff"/>
    <rect x="118" y="283.2" width="13.2" height="20.3" fill="#a4a4a4"/>
  </g>
  <!-- bracket -->
  <path d="M46.5,242.7 V241.1 H66.8 V242.7" fill="none" stroke="#555" stroke-width="0.75"/>
  <text x="56.8" y="239.2" font-size="5.6" class="b" fill="#222" text-anchor="middle">*</text>
  <!-- x axis -->
  <path d="M38.3,310.3 H135.3" stroke="#111" stroke-width="1.1"/>
  <g font-size="4.85" class="b" fill="#222" text-anchor="middle">
    <text x="61.7" y="316.8">IFN-γ / FMKp</text>
    <text x="117.2" y="316.8">IFN-γ / FMKp + PGE2</text>
  </g>
</g>

<!-- ============ PANEL D ============ -->
<text x="167.8" y="211" font-size="11" class="b" fill="#111">D</text>
<g id="panelD">
  <rect x="261.3" y="222.6" width="59.2" height="45.6" fill="none" stroke="#555" stroke-width="0.7"/>
  <g font-size="4.7" fill="#222">
  <path d="M265.2,228.6 H272.3" stroke="#666" stroke-width="0.6"/>
  <circle cx="269" cy="228.6" r="1.1" fill="#111"/>
  <text x="276.9" y="229.8">NK only</text>
  <path d="M265.2,235.0 H272.3" stroke="#666" stroke-width="0.6"/>
  <circle cx="269" cy="235.0" r="0.9" fill="#555"/>
  <text x="276.9" y="236.7">0 ng/ml PGE2</text>
  <path d="M265.2,242.2 H272.3" stroke="#666" stroke-width="0.6"/>
  <circle cx="269" cy="242.2" r="1.1" fill="#111"/>
  <text x="276.9" y="243.5">5 ng/ml PGE2</text>
  <path d="M265.2,248.6 H272.3" stroke="#666" stroke-width="0.6"/>
  <circle cx="269" cy="248.6" r="1.15" fill="#111"/>
  <text x="276.9" y="250.4">50 ng/ml PGE2</text>
  <path d="M265.2,255.4 H272.3" stroke="#666" stroke-width="0.6"/>
  <ellipse cx="269" cy="255.4" rx="1.6" ry="1.0" fill="#888" stroke="#666" stroke-width="0.4"/>
  <text x="276.9" y="257.3">500 ng/ml PGE2</text>
  <path d="M265.2,261.8 H272.3" stroke="#666" stroke-width="0.6"/>
  <circle cx="269" cy="261.8" r="1.0" fill="#555"/>
  <text x="276.9" y="264.3">5000 ng/ml PGE2</text>
  </g>
  <g stroke="#222" stroke-width="0.9" fill="none">
    <path d="M191.8,242 V303.5"/>
    <path d="M189.4,242.2 H191.8 M189.4,262.6 H191.8 M189.4,283.1 H191.8 M189.4,303.5 H191.8"/>
  </g>
  <g font-size="4.3" class="b" fill="#222" text-anchor="end">
    <text x="189" y="243.8">60</text>
    <text x="189" y="264.2">40</text>
    <text x="189" y="284.7">20</text>
    <text x="189" y="305.1">0</text>
  </g>
  <text transform="translate(174.6,273) rotate(-90)" font-size="4.95" class="b" fill="#222" text-anchor="middle">% Specific lysis</text>
  <g stroke="#222" stroke-width="0.7" fill="none">
  <path d="M210.7,262.3 L234.6,266.2 L258.5,276.3 L282.3,292.3"/>
  <path d="M210.7,268.8 L234.6,272.7 L258.5,281.9 L282.3,297.0"/>
  <path d="M210.7,273.5 L234.6,281.8 L258.5,287.8 L282.3,299.0"/>
  <path d="M210.7,285.8 L234.6,288.7 L258.5,292.2 L282.3,300.9"/>
  <path d="M210.7,295.7 L234.6,298.6 L258.5,302.8 L282.3,302.8"/>
  <path d="M210.7,300.3 L234.6,300.3 L258.5,302.8 L282.3,302.8"/>
  </g>
  <circle cx="210.7" cy="262.3" r="1.3" fill="#111"/>
  <circle cx="234.6" cy="266.2" r="1.3" fill="#111"/>
  <circle cx="258.5" cy="276.3" r="1.3" fill="#111"/>
  <circle cx="282.3" cy="292.3" r="1.3" fill="#111"/>
  <circle cx="210.7" cy="268.8" r="1.3" fill="#111"/>
  <circle cx="234.6" cy="272.7" r="1.3" fill="#111"/>
  <circle cx="258.5" cy="281.9" r="1.3" fill="#111"/>
  <circle cx="282.3" cy="297.0" r="1.3" fill="#111"/>
  <circle cx="210.7" cy="273.5" r="1.3" fill="#111"/>
  <circle cx="234.6" cy="281.8" r="1.3" fill="#111"/>
  <circle cx="258.5" cy="287.8" r="1.3" fill="#111"/>
  <circle cx="282.3" cy="299.0" r="1.3" fill="#111"/>
  <ellipse cx="210.7" cy="285.8" rx="1.1" ry="1.5" fill="#fff" stroke="#333" stroke-width="0.6"/><path d="M210.7,283.6 V288.0" stroke="#333" stroke-width="0.5"/>
  <ellipse cx="234.6" cy="288.7" rx="1.1" ry="1.5" fill="#fff" stroke="#333" stroke-width="0.6"/><path d="M234.6,286.5 V290.9" stroke="#333" stroke-width="0.5"/>
  <ellipse cx="258.5" cy="292.2" rx="1.1" ry="1.5" fill="#fff" stroke="#333" stroke-width="0.6"/><path d="M258.5,290.0 V294.4" stroke="#333" stroke-width="0.5"/>
  <ellipse cx="282.3" cy="300.9" rx="1.1" ry="1.5" fill="#fff" stroke="#333" stroke-width="0.6"/><path d="M282.3,298.7 V303.1" stroke="#333" stroke-width="0.5"/>
  <ellipse cx="210.7" cy="295.7" rx="1.1" ry="1.5" fill="#fff" stroke="#333" stroke-width="0.6"/><path d="M210.7,293.5 V297.9" stroke="#333" stroke-width="0.5"/>
  <ellipse cx="234.6" cy="298.6" rx="1.1" ry="1.5" fill="#fff" stroke="#333" stroke-width="0.6"/><path d="M234.6,296.4 V300.8" stroke="#333" stroke-width="0.5"/>
  <ellipse cx="258.5" cy="302.8" rx="1.1" ry="1.5" fill="#fff" stroke="#333" stroke-width="0.6"/><path d="M258.5,300.6 V305.0" stroke="#333" stroke-width="0.5"/>
  <ellipse cx="282.3" cy="302.8" rx="1.1" ry="1.5" fill="#fff" stroke="#333" stroke-width="0.6"/><path d="M282.3,300.6 V305.0" stroke="#333" stroke-width="0.5"/>
  <circle cx="210.7" cy="300.3" r="1.3" fill="#111"/>
  <circle cx="234.6" cy="300.3" r="1.3" fill="#111"/>
  <circle cx="258.5" cy="302.8" r="1.3" fill="#111"/>
  <circle cx="282.3" cy="302.8" r="1.3" fill="#111"/>
  <path d="M198.8,310.5 H295" stroke="#111" stroke-width="1.1"/>
  <g font-size="5.3" class="b" fill="#222" text-anchor="middle">
    <text x="211.1" y="320">20:1</text>
    <text x="234.4" y="320">10:1</text>
    <text x="259.6" y="320">5:1</text>
    <text x="281.5" y="320">1:1</text>
  </g>
  <text x="248.2" y="331.3" font-size="4.85" class="b" fill="#222" text-anchor="middle">E:T ratio</text>
</g>

<!-- ============ PANEL E ============ -->
<text x="343" y="210.5" font-size="11" class="b" fill="#111">E</text>
<g id="panelE">
  <rect x="466.8" y="239.7" width="51.6" height="21" fill="none" stroke="#555" stroke-width="0.7"/>
  <rect x="469.5" y="242.8" width="8.2" height="2.4" fill="#fff" stroke="#333" stroke-width="0.6"/>
  <rect x="469.5" y="249" width="8.2" height="2.4" fill="#d0d0d0" stroke="#333" stroke-width="0.6"/>
  <rect x="469.5" y="255.3" width="8.2" height="2.4" fill="#5e5e5e" stroke="#333" stroke-width="0.6"/>
  <g font-size="4.75" fill="#222">
    <text x="481.3" y="245.6">No PGE2</text>
    <text x="481.3" y="251.8">pre-incubation</text>
    <text x="481.3" y="258.2">early incubation</text>
  </g>
  <g stroke="#222" stroke-width="0.9" fill="none">
    <path d="M368.4,241.7 V303.5"/>
    <path d="M366.1,241.7 H368.4 M366.1,254.1 H368.4 M366.1,266.4 H368.4 M366.1,278.8 H368.4 M366.1,291.1 H368.4 M366.1,303.5 H368.4"/>
  </g>
  <g font-size="4.3" class="b" fill="#222" text-anchor="end">
    <text x="365.5" y="243.3">50</text>
    <text x="365.5" y="255.7">40</text>
    <text x="365.5" y="268">30</text>
    <text x="365.5" y="280.4">20</text>
    <text x="365.5" y="292.7">10</text>
    <text x="365.5" y="305.1">0</text>
  </g>
  <text transform="translate(350.9,272.6) rotate(-90)" font-size="4.95" class="b" fill="#222" text-anchor="middle">% Specific lysis</text>
  <g stroke="#3a3a3a" stroke-width="0.7">
  <path d="M380.8,289.3 V287.7 M379.2,287.7 H382.4" fill="none"/>
  <rect x="378.5" y="289.3" width="4.6" height="14.2" fill="#fff"/>
  <path d="M412.4,250.6 V246.4 M410.8,246.4 H414.0" fill="none"/>
  <rect x="410.0" y="250.6" width="4.7" height="52.9" fill="#fff"/>
  <path d="M419.7,258.4 V253.7 M418.1,253.7 H421.3" fill="none"/>
  <rect x="417.3" y="258.4" width="4.7" height="45.1" fill="#d0d0d0"/>
  <path d="M426.5,280.3 V276.4 M424.9,276.4 H428.1" fill="none"/>
  <rect x="424.2" y="280.3" width="4.6" height="23.2" fill="#5e5e5e"/>
  <path d="M444.1,265.8 V264.9 M442.5,264.9 H445.8" fill="none"/>
  <rect x="441.9" y="265.8" width="4.5" height="37.7" fill="#fff"/>
  <path d="M451.2,269.6 V266.0 M449.6,266.0 H452.9" fill="none"/>
  <rect x="448.9" y="269.6" width="4.7" height="33.9" fill="#d0d0d0"/>
  </g>
  <path d="M455.8,303.2 H459.7" stroke="#222" stroke-width="0.7"/>
  <path d="M375,309.3 H470.7" stroke="#111" stroke-width="1.1"/>
  <g font-size="4.6" class="b" fill="#222" text-anchor="middle">
    <text x="387.8" y="317.4">NK</text>
    <text x="420.8" y="317.4">NK+IL-2</text>
    <text x="453.7" y="317.4">NK+DC</text>
  </g>
</g>

</g>
</svg>
</body></html>
